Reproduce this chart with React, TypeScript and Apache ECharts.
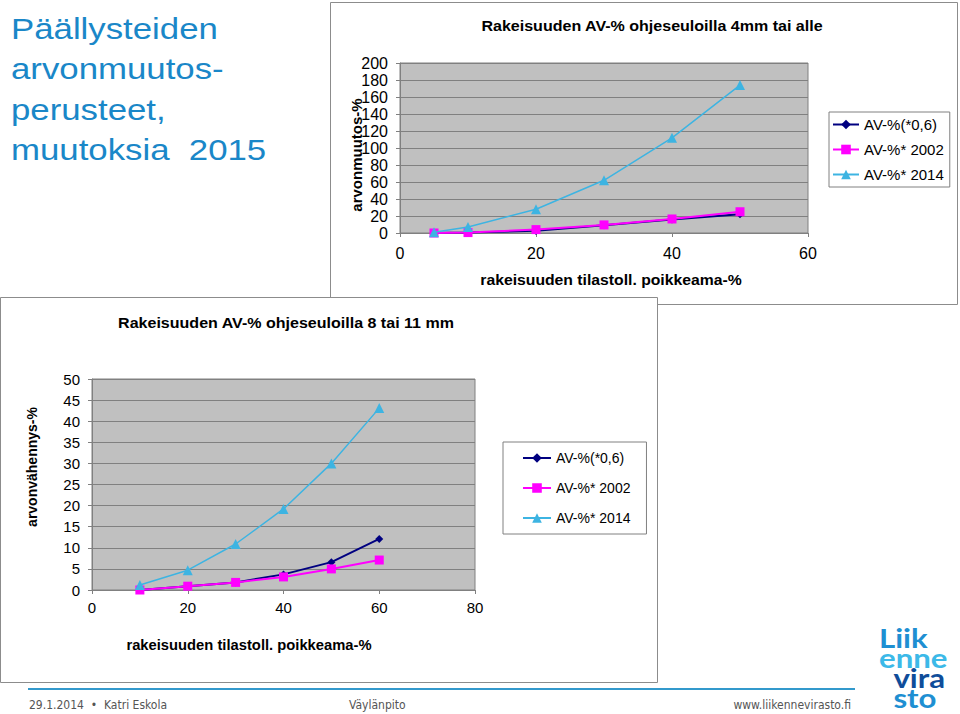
import React, { useEffect, useRef } from "react";
import * as echarts from "echarts";

const seriesNames = ["AV-%(*0,6)", "AV-%* 2002", "AV-%* 2014"];

const topX = [5, 10, 20, 30, 40, 50];
const topAV06 = [0, 0.5, 2.5, 9, 16, 22];
const top2002 = [0, 0.5, 4, 9.5, 16.5, 25];
const top2014 = [1, 7, 28, 62, 112, 174];

const botX = [10, 20, 30, 40, 50, 60];
const botAV06 = [0, 0.9, 1.8, 3.7, 6.6, 12.1];
const bot2002 = [0, 0.9, 1.8, 3.1, 5.0, 7.1];
const bot2014 = [1.2, 4.7, 10.9, 19.2, 30, 43.1];

const titleLines = ["Päällysteiden", "arvonmuutos-", "perusteet,", "muutoksia  2015"];
const topTitle = "Rakeisuuden AV-% ohjeseuloilla 4mm tai alle";
const botTitle = "Rakeisuuden AV-% ohjeseuloilla 8 tai 11 mm";
const xName = "rakeisuuden tilastoll. poikkeama-%";
const topYName = "arvonmuutos-%";
const botYName = "arvonvähennys-%";
const footerLeft = "29.1.2014  •  Katri Eskola";
const footerMid = "Väylänpito";
const footerRight = "www.liikennevirasto.fi";
const logoLines = ["Liik", "enne", "vira", "sto"];

const FONT = "'Liberation Sans', Arial, sans-serif";
const NARROW = "'Liberation Sans Narrow', 'DejaVu Sans Condensed', sans-serif";
const colors = ["#000080", "#ff00ff", "#3db4e2"];
const symbols = ["diamond", "rect", "triangle"];
const symbolSizes = [8, 9, 10];

function pairs(xs: number[], ys: number[]) {
  return xs.map((x, i) => [x, ys[i]]);
}

export default function App() {
  const ref = useRef<HTMLDivElement>(null);
  useEffect(() => {
    if (!ref.current) return;
    const chart = echarts.init(ref.current, null, { renderer: "svg" });

    const axisLine = { show: true, lineStyle: { color: "#808080", width: 1 } };
    const axisTick = { show: true, length: 4, lineStyle: { color: "#808080" } };

    const mkSeries = (gi: number, xs: number[], arrs: number[][]) =>
      arrs.map((arr, k) => ({
        type: "line",
        name: seriesNames[k],
        xAxisIndex: gi,
        yAxisIndex: gi,
        data: pairs(xs, arr),
        symbol: symbols[k],
        symbolSize: symbolSizes[k],
        showAllSymbol: true,
        lineStyle: { color: colors[k], width: k === 2 ? 1.5 : 2 },
        itemStyle: { color: colors[k] },
        z: 3 + k,
      }));

    const legendBase = {
      orient: "vertical",
      data: seriesNames,
      borderColor: "#808080",
      borderWidth: 1,
      backgroundColor: "#fff",
      textStyle: { color: "#000", fontFamily: FONT },
      selectedMode: false,
    };

    const text = (t: string, x: number, y: number, font: string, extra: any = {}, styleExtra: any = {}) => ({
      type: "text",
      silent: true,
      x,
      y,
      ...extra,
      style: { text: t, fill: "#000", font, align: "center", verticalAlign: "middle", ...styleExtra },
    });

    const option: any = {
      animation: false,
      textStyle: { fontFamily: FONT },
      grid: [
        {
          left: 400, right: 152, top: 63, bottom: 481,
          show: true, backgroundColor: "#c0c0c0", borderColor: "#808080", borderWidth: 1,
        },
        {
          left: 92, right: 485, top: 379, bottom: 124,
          show: true, backgroundColor: "#c0c0c0", borderColor: "#808080", borderWidth: 1,
        },
      ],
      xAxis: [
        {
          type: "value", gridIndex: 0, min: 0, max: 60, interval: 20,
          axisLine, axisTick, splitLine: { show: false },
          axisLabel: { fontSize: 16, color: "#000", margin: 12, fontFamily: FONT },
        },
        {
          type: "value", gridIndex: 1, min: 0, max: 80, interval: 20,
          axisLine, axisTick, splitLine: { show: false },
          axisLabel: { fontSize: 15, color: "#000", margin: 10, fontFamily: FONT },
        },
      ],
      yAxis: [
        {
          type: "value", gridIndex: 0, min: 0, max: 200, interval: 20,
          axisLine, axisTick,
          splitLine: { show: true, lineStyle: { color: "#808080", width: 1 } },
          axisLabel: { fontSize: 16, color: "#000", margin: 12, fontFamily: FONT, lineHeight: 16 },
        },
        {
          type: "value", gridIndex: 1, min: 0, max: 50, interval: 5,
          axisLine, axisTick,
          splitLine: { show: true, lineStyle: { color: "#808080", width: 1 } },
          axisLabel: { fontSize: 15, color: "#000", margin: 12, fontFamily: FONT },
        },
      ],
      legend: [
        {
          ...legendBase,
          left: 829, top: 112,
          itemWidth: 26, itemHeight: 12, itemGap: 10,
          padding: [5, 6, 5, 3],
          textStyle: { ...legendBase.textStyle, fontSize: 15 },
        },
        {
          ...legendBase,
          left: 503, top: 442,
          itemWidth: 28, itemHeight: 12, itemGap: 16,
          padding: [9, 16, 9, 19],
          textStyle: { ...legendBase.textStyle, fontSize: 14 },
        },
      ],
      series: [
        ...mkSeries(0, topX, [topAV06, top2002, top2014]),
        ...mkSeries(1, botX, [botAV06, bot2002, bot2014]),
      ],
      graphic: [
        {
          type: "rect", z: -20, silent: true,
          shape: { x: 330.5, y: 2.5, width: 627, height: 302 },
          style: { fill: "#fff", stroke: "#8c8c8c", lineWidth: 1 },
        },
        {
          type: "rect", z: -10, silent: true,
          shape: { x: 0.5, y: 297.5, width: 657, height: 385 },
          style: { fill: "#fff", stroke: "#8c8c8c", lineWidth: 1 },
        },
        ...titleLines.map((t, i) =>
          text(t, 11, 28.6 + i * 40.4, `30px ${FONT}`, { scaleX: 1.16 }, { fill: "#1a87c8", align: "left" })
        ),
        text(topTitle, 652, 26, `bold 15px ${FONT}`, { scaleX: 1.07 }),
        text(botTitle, 286, 323, `bold 15px ${FONT}`, { scaleX: 1.07 }),
        text(xName, 611, 280, `bold 15px ${FONT}`, { scaleX: 1.05 }),
        text(xName, 249, 645, `bold 14px ${FONT}`, { scaleX: 1.055 }),
        text(topYName, 356, 155, `bold 15px ${FONT}`, { rotation: Math.PI / 2 }),
        text(botYName, 32, 467, `bold 14px ${FONT}`, { rotation: Math.PI / 2 }),
        {
          type: "line", silent: true,
          shape: { x1: 28, y1: 689, x2: 855, y2: 689 },
          style: { stroke: "#3399cc", lineWidth: 2 },
        },
        text(footerLeft, 29, 705, `12px ${NARROW}`, {}, { fill: "#555", align: "left" }),
        text(footerMid, 349, 705, `12px ${NARROW}`, {}, { fill: "#555", align: "left" }),
        text(footerRight, 851, 705, `12px ${NARROW}`, {}, { fill: "#555", align: "right" }),
        {
          type: "text", silent: true,
          x: 879, y: 628, scaleX: 1.2,
          style: {
            text: `{a|${logoLines[0]}}\n{b|${logoLines[1]}}\n{c|${logoLines[2]}}\n{d|${logoLines[3]}}`,
            align: "left",
            verticalAlign: "top",
            font: `bold 26px Lato, 'Open Sans', sans-serif`,
            lineHeight: 20,
            rich: {
              a: { fill: "#1e8fd2", font: `bold 26px Lato, sans-serif`, lineHeight: 20 },
              b: { fill: "#3cb9e8", font: `bold 26px Lato, sans-serif`, lineHeight: 20 },
              c: { fill: "#0f4d9a", font: `bold 26px Lato, sans-serif`, lineHeight: 20, padding: [0, 0, 0, 12] },
              d: { fill: "#1e8fd2", font: `bold 26px Lato, sans-serif`, lineHeight: 20, padding: [0, 0, 0, 12] },
            },
          },
        },
      ],
    };

    chart.setOption(option);
    return () => chart.dispose();
  }, []);

  return (
    <div
      ref={ref}
      style={{ position: "absolute", left: 0, top: 0, width: 960, height: 714, background: "#fff" }}
    />
  );
}
